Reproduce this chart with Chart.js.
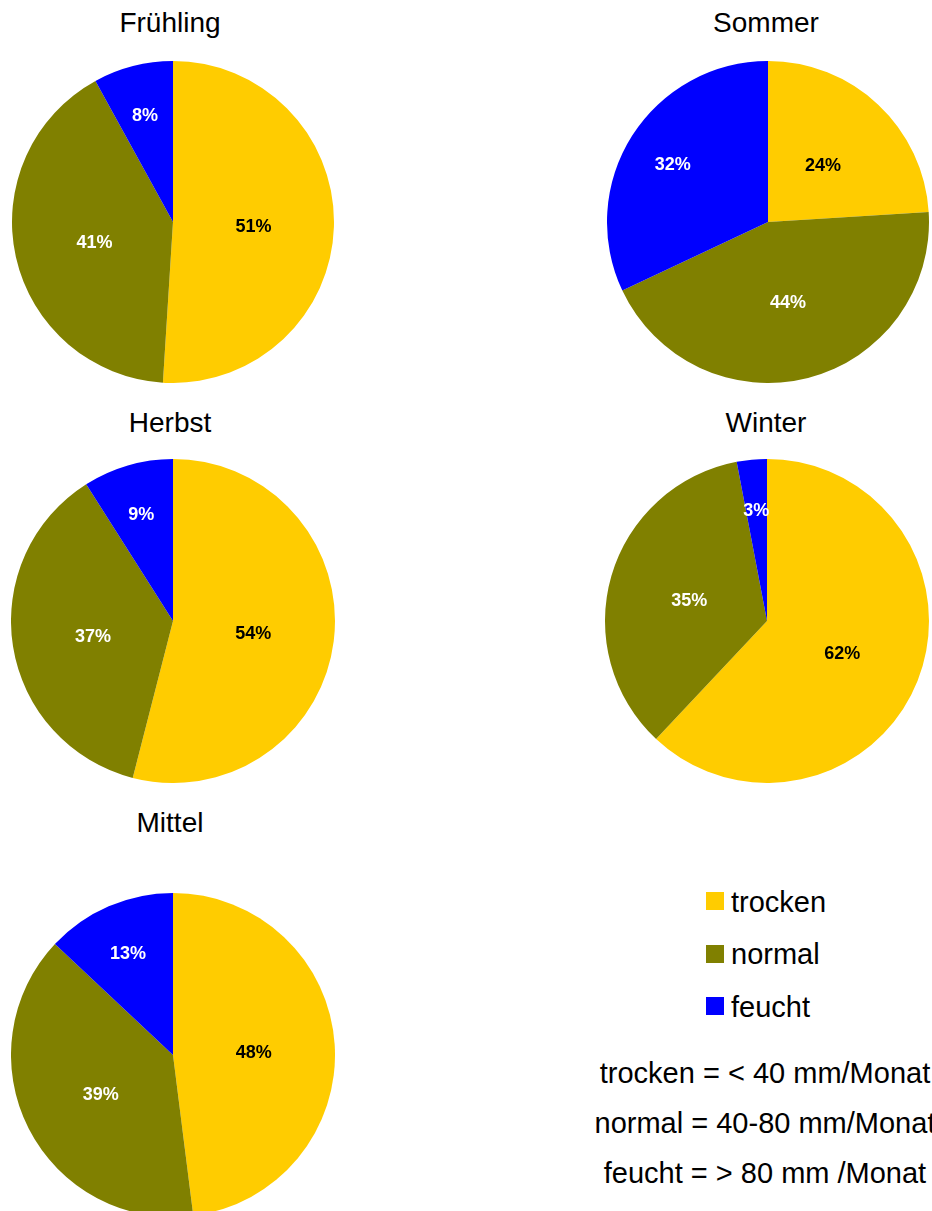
<!DOCTYPE html>
<html>
<head>
  <meta charset="utf-8">
  <script src="https://cdn.jsdelivr.net/npm/chart.js"></script>
  <style>
    body { margin: 0; background: #fff; }
    #page { position: relative; width: 932px; height: 1211px; overflow: hidden; font-family: "Liberation Sans", Arial, sans-serif; color: #000; }
    canvas { position: absolute; }
    .title { position: absolute; width: 240px; text-align: center; font-size: 28px; line-height: 28px; white-space: nowrap; }
    .key { position: absolute; font-size: 29px; line-height: 29px; white-space: nowrap; }
    .swatch { position: absolute; width: 18px; height: 18px; }
    .note { position: absolute; left: 545px; width: 440px; text-align: center; font-size: 29px; line-height: 29px; white-space: nowrap; }
  </style>
</head>
<body>
<div id="page"></div>
<script>
// data (percent per season)
const seasons = ['Frühling', 'Sommer', 'Herbst', 'Winter', 'Mittel'];
const categories = ['trocken', 'normal', 'feucht'];
const trocken = [51, 24, 54, 62, 48];
const normal = [41, 44, 37, 35, 39];
const feucht = [8, 32, 9, 3, 13];
const notes = ['trocken = < 40 mm/Monat', 'normal = 40-80 mm/Monat', 'feucht = > 80 mm /Monat'];

const colors = ['#FFCC00', '#808000', '#0000FF'];
const labelColors = ['#000000', '#ffffff', '#ffffff'];
const labelDist = [0.5, 0.5, 0.7];

// where each pie sits on the page: centre x, centre y, radius, title centre x, title baseline
const layout = [
  { cx: 173, cy: 222, r: 161, tx: 170, ty: 32 },
  { cx: 768, cy: 222, r: 161, tx: 766, ty: 32 },
  { cx: 173, cy: 621, r: 162, tx: 170, ty: 432 },
  { cx: 767, cy: 621, r: 162, tx: 766, ty: 432 },
  { cx: 173, cy: 1055, r: 162, tx: 170, ty: 832 }
];

const page = document.getElementById('page');

// percent labels inside the slices
const sliceLabels = {
  id: 'sliceLabels',
  afterDatasetsDraw(chart) {
    const c = chart.ctx;
    const meta = chart.getDatasetMeta(0);
    const vals = chart.data.datasets[0].data;
    c.save();
    c.font = 'bold 18px "Liberation Sans", Arial, sans-serif';
    c.textAlign = 'center';
    c.textBaseline = 'middle';
    meta.data.forEach((arc, i) => {
      const p = arc.getProps(['x', 'y', 'startAngle', 'endAngle', 'outerRadius'], true);
      const mid = (p.startAngle + p.endAngle) / 2;
      const d = p.outerRadius * labelDist[i];
      c.fillStyle = labelColors[i];
      c.fillText(vals[i] + '%', p.x + Math.cos(mid) * d, p.y + Math.sin(mid) * d + 3);
    });
    c.restore();
  }
};

seasons.forEach((name, k) => {
  const L = layout[k];

  const t = document.createElement('div');
  t.className = 'title';
  t.textContent = name;
  t.style.left = (L.tx - 120) + 'px';
  t.style.top = (L.ty - 23.5) + 'px';
  page.appendChild(t);

  const cv = document.createElement('canvas');
  cv.width = L.r * 2;
  cv.height = L.r * 2;
  cv.style.left = (L.cx - L.r) + 'px';
  cv.style.top = (L.cy - L.r) + 'px';
  page.appendChild(cv);

  new Chart(cv.getContext('2d'), {
    type: 'pie',
    data: {
      labels: categories,
      datasets: [{
        data: [trocken[k], normal[k], feucht[k]],
        backgroundColor: colors,
        borderWidth: 0,
        hoverOffset: 0
      }]
    },
    options: {
      responsive: false,
      animation: false,
      layout: { padding: 0 },
      plugins: { legend: { display: false }, tooltip: { enabled: false } }
    },
    plugins: [sliceLabels]
  });
});

// legend
categories.forEach((cat, i) => {
  const sw = document.createElement('div');
  sw.className = 'swatch';
  sw.style.background = colors[i];
  sw.style.left = '706px';
  sw.style.top = (892 + i * 52.5) + 'px';
  page.appendChild(sw);

  const tx = document.createElement('div');
  tx.className = 'key';
  tx.textContent = cat;
  tx.style.left = '731px';
  tx.style.top = (912 + i * 52.5 - 24.5) + 'px';
  page.appendChild(tx);
});

notes.forEach((n, i) => {
  const d = document.createElement('div');
  d.className = 'note';
  d.textContent = n;
  d.style.top = (1083 + i * 50 - 24.5) + 'px';
  page.appendChild(d);
});
</script>
</body>
</html>
